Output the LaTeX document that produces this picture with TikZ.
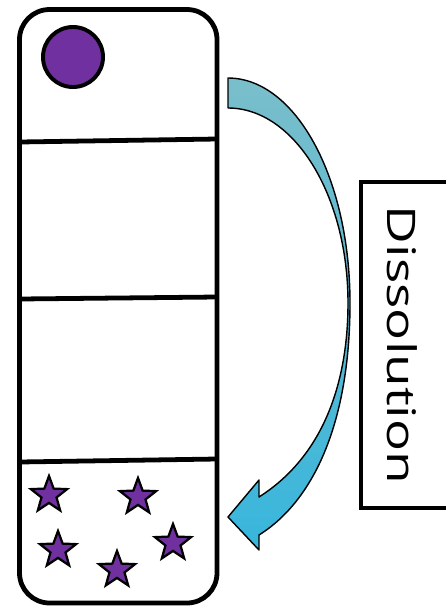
\documentclass[tikz,border=0pt]{standalone}
\usepackage{fontspec}
\newfontfamily\labelfont{Open Sans}
\usetikzlibrary{shapes.geometric}
\definecolor{solutepurple}{RGB}{112,48,160}
\definecolor{arrowtop}{RGB}{122,190,203}
\definecolor{arrowbottom}{RGB}{56,182,220}
\tikzset{tubewall/.style={line width=3.4pt, line join=round}}
\tikzset{framewall/.style={line width=2.6pt}}
\tikzset{solute/.style={circle, draw, line width=2.8pt, fill=solutepurple,
    minimum size=1.5cm, inner sep=0pt}}
\tikzset{crystal/.style={star, star points=5, star point ratio=2.4, draw,
    line width=1.6pt, fill=solutepurple, minimum size=0.95cm, inner sep=0pt}}
\tikzset{flowarrow/.style={draw, line width=1pt, line join=round,
    top color=arrowtop, bottom color=arrowbottom}}
\begin{document}
\begin{tikzpicture}[x=0.025cm, y=-0.025cm]
  \clip (0,0) rectangle (446,608);%
  % the tube and its compartments
  \draw[tubewall, rounded corners=0.75cm] (19.5,9.5) rectangle (217,603);%
  \draw[tubewall] (19.5,142) -- (217,139);%
  \draw[tubewall] (19.5,299) -- (217,297);%
  \draw[tubewall] (19.5,462) -- (217,459);%
  \node[solute] (solute) at (73,57) {};%
  \foreach \x/\y [count=\i] in {49/495, 138/497, 58/550, 173/543, 117/570}
    \node[crystal] (crystal-\i) at (\x,\y) {};%
  % curved block arrow
  \path[flowarrow] (228,78) .. controls (295,78) and (350,177) .. (350,303)
    .. controls (350,420) and (315,500) .. (259,535)
    -- (259,550) -- (228,517) -- (259,480) -- (259,497)
    .. controls (325,455) and (348,380) .. (348,303)
    .. controls (348,195) and (294,108) .. (228,108) -- cycle;%
  \draw[framewall] (361,182) rectangle (480,508);%
  \node[rotate=-90, xscale=1.35, inner sep=0pt,
    font=\labelfont\fontsize{28}{30}\selectfont] (dissolution) at (402,345) {Dissolution};%
\end{tikzpicture}
\end{document}
